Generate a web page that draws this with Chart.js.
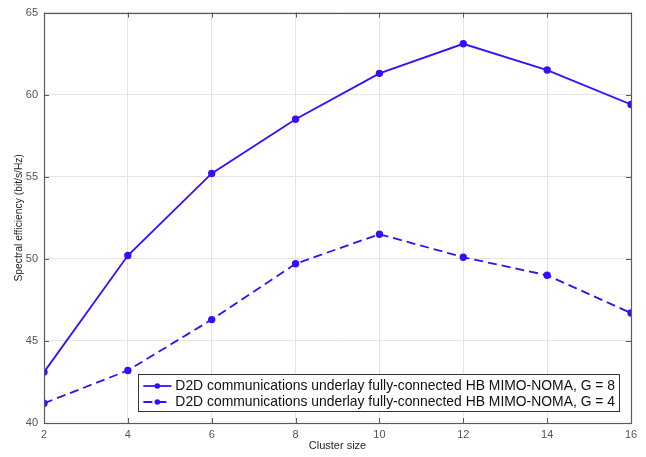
<!DOCTYPE html>
<html>
<head>
<meta charset="utf-8">
<script src="https://cdn.jsdelivr.net/npm/chart.js@4.4.1/dist/chart.umd.min.js"></script>
<style>
  html, body { margin: 0; padding: 0; background: #fff; }
  #wrap { width: 646px; height: 457px; }
</style>
</head>
<body>
<div id="wrap"><canvas id="c" width="646" height="457"></canvas></div>
<script>
// Cluster sizes on the x axis
const clusterSizes = [2, 4, 6, 8, 10, 12, 14, 16];
// Spectral efficiency (bit/s/Hz) for each number of groups
const seG8 = [43.1, 50.2, 55.2, 58.5, 61.3, 63.1, 61.5, 59.4];
const seG4 = [41.2, 43.2, 46.3, 49.7, 51.5, 50.1, 49.0, 46.7];
const seriesNames = [
  'D2D communications underlay fully-connected HB MIMO-NOMA, G = 8',
  'D2D communications underlay fully-connected HB MIMO-NOMA, G = 4'
];
const xTicks = [2, 4, 6, 8, 10, 12, 14, 16];
const yTicks = [40, 45, 50, 55, 60, 65];

const LINE = '#3a0cff';
const FONT = '"Liberation Sans", Arial, Helvetica, sans-serif';

const toPoints = vals => clusterSizes.map((x, i) => ({ x, y: vals[i] }));

// Axes box with inward tick marks on all four sides
const boxPlugin = {
  id: 'axesBox',
  afterDatasetsDraw(chart) {
    const { ctx, chartArea: a, scales } = chart;
    ctx.save();
    ctx.strokeStyle = '#5a5a5a';
    ctx.lineWidth = 1;
    const L = 5;
    ctx.beginPath();
    xTicks.forEach(v => {
      const px = Math.round(scales.x.getPixelForValue(v)) + 0.5;
      ctx.moveTo(px, a.bottom); ctx.lineTo(px, a.bottom - L);
      ctx.moveTo(px, a.top); ctx.lineTo(px, a.top + L);
    });
    yTicks.forEach(v => {
      const py = Math.round(scales.y.getPixelForValue(v)) + 0.5;
      ctx.moveTo(a.left, py); ctx.lineTo(a.left + L, py);
      ctx.moveTo(a.right, py); ctx.lineTo(a.right - L, py);
    });
    ctx.stroke();
    ctx.lineWidth = 1.2;
    ctx.strokeRect(Math.round(a.left) + 0.5, Math.round(a.top) + 0.5,
                   Math.round(a.right - a.left), Math.round(a.bottom - a.top));
    ctx.restore();
  }
};

// Boxed legend in the lower-right corner of the plot
const legendPlugin = {
  id: 'boxLegend',
  afterDraw(chart) {
    const { ctx, chartArea: a } = chart;
    ctx.save();
    ctx.font = '13.9px ' + FONT;
    const names = chart.data.datasets.map(d => d.label);
    const tw = Math.max(...names.map(n => ctx.measureText(n).width));
    const rowH = 16;
    const right = a.right - 12, bottom = a.bottom - 12;
    const h = rowH * names.length + 5;
    const w = tw + 37 + 4;
    const left = right - w, top = bottom - h;
    ctx.fillStyle = '#fff';
    ctx.fillRect(left, top, w, h);
    ctx.strokeStyle = '#333';
    ctx.lineWidth = 1;
    ctx.strokeRect(Math.round(left) + 0.5, Math.round(top) + 0.5, Math.round(w), Math.round(h));
    chart.data.datasets.forEach((d, i) => {
      const cy = top + 4 + rowH * i + rowH / 2;
      ctx.strokeStyle = d.borderColor;
      ctx.lineWidth = d.borderWidth;
      ctx.setLineDash(d.borderDash || []);
      ctx.beginPath();
      ctx.moveTo(left + 5, cy); ctx.lineTo(left + 33, cy);
      ctx.stroke();
      ctx.setLineDash([]);
      ctx.fillStyle = d.pointBackgroundColor;
      ctx.beginPath();
      ctx.arc(left + 19, cy, d.pointRadius, 0, Math.PI * 2);
      ctx.fill();
      ctx.fillStyle = '#111';
      ctx.textBaseline = 'middle';
      ctx.textAlign = 'left';
      ctx.fillText(d.label, left + 37, cy + 0.5);
    });
    ctx.restore();
  }
};

new Chart(document.getElementById('c'), {
  type: 'line',
  data: {
    datasets: [
      {
        label: seriesNames[0],
        data: toPoints(seG8),
        borderColor: LINE,
        backgroundColor: LINE,
        pointBackgroundColor: LINE,
        pointBorderColor: LINE,
        borderWidth: 1.8,
        pointRadius: 2.8,
        tension: 0
      },
      {
        label: seriesNames[1],
        data: toPoints(seG4),
        borderColor: LINE,
        backgroundColor: LINE,
        pointBackgroundColor: LINE,
        pointBorderColor: LINE,
        borderWidth: 1.8,
        borderDash: [9, 5],
        pointRadius: 2.8,
        tension: 0
      }
    ]
  },
  options: {
    responsive: false,
    animation: false,
    layout: { padding: { left: 0, right: 15, top: 12, bottom: 0 } },
    plugins: { legend: { display: false }, tooltip: { enabled: false } },
    scales: {
      x: {
        type: 'linear',
        min: 2, max: 16,
        afterBuildTicks: s => { s.ticks = xTicks.map(v => ({ value: v })); },
        afterFit: s => { s.height = 34; },
        grid: { color: '#e4e4e4', drawTicks: false },
        border: { display: false },
        ticks: { padding: 5, color: '#555', font: { family: FONT, size: 11 } },
        title: {
          display: true, text: 'Cluster size', color: '#262626',
          font: { family: FONT, size: 11 }, padding: { top: 4, bottom: 4 }
        }
      },
      y: {
        min: 40, max: 65,
        afterBuildTicks: s => { s.ticks = yTicks.map(v => ({ value: v })); },
        afterFit: s => { s.width = 44; },
        grid: { color: '#e4e4e4', drawTicks: false },
        border: { display: false },
        ticks: { padding: 6, color: '#555', font: { family: FONT, size: 11 } },
        title: {
          display: true, text: 'Spectral efficiency (bit/s/Hz)', color: '#262626',
          font: { family: FONT, size: 10.3 }, padding: { top: 13, bottom: 0 }
        }
      }
    }
  },
  plugins: [boxPlugin, legendPlugin]
});
</script>
</body>
</html>
